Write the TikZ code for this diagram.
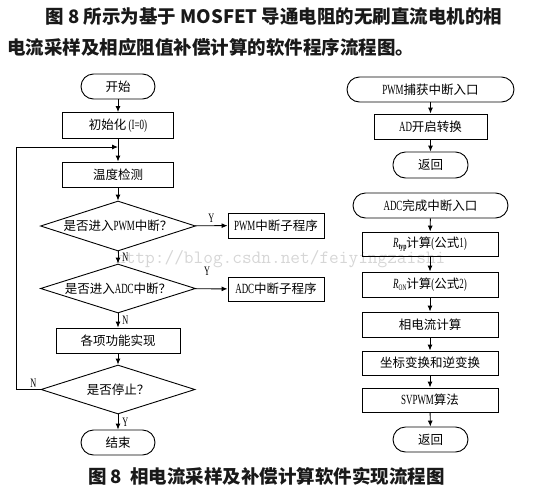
\documentclass[tikz,border=0pt]{standalone}
\usepackage{fontspec}
\setmainfont{Liberation Serif}
\newfontfamily\cjk{Noto Sans CJK SC}
\newfontfamily\latn{Liberation Serif}[FakeStretch=0.64,Scale=1.12]
\usetikzlibrary{shapes.geometric,arrows.meta}
\begin{document}
\begin{tikzpicture}[x=1pt,y=-1pt,
  box/.style={draw,line width=0.9pt,rectangle,minimum height=25pt,inner sep=0pt,font=\fontsize{12.5}{14}\selectfont\cjk},
  term/.style={box,rounded corners=12.5pt},
  dec/.style={draw,line width=0.9pt,diamond,inner sep=0pt,minimum width=155pt,minimum height=50pt,font=\fontsize{12.5}{14}\selectfont\cjk},
  arr/.style={-{Latex[length=6pt,width=5pt]},line width=0.9pt},
  lab/.style={font=\fontsize{11.5}{12}\selectfont\latn,inner sep=0pt},
  ttl/.style={font=\fontsize{18.5}{20}\selectfont\cjk\bfseries,text=black!90,inner sep=0pt}]
\useasboundingbox (0,0) rectangle (552,496);

% watermark
\node[font=\fontsize{18.8}{20}\selectfont\ttfamily,text=black!16,anchor=west,inner sep=0pt] (wm) at (116,259) {http://blog.csdn.net/feiyingzaishi};

% titles
\node[ttl] (t1) at (274,17) {图 8 所示为基于 MOSFET 导通电阻的无刷直流电机的相};
\node[ttl,anchor=west] (t2) at (7,47) {电流采样及相应阻值补偿计算的软件程序流程图。};
\node[ttl] (cap) at (266.5,476) {图 8\ \ 相电流采样及补偿计算软件实现流程图};

% left column
\node[term,minimum width=74pt] (start) at (118,86.5) {开始};
\node[box,minimum width=111pt,minimum height=26pt] (init) at (118,125.5) {初始化{\latn\,(I=0)}};
\node[box,minimum width=111pt] (temp) at (118,174.5) {温度检测};
\node[dec] (d1) at (118,226) {\makebox[0pt]{是否进入{\latn PWM}中断？}};
\node[box,minimum width=96pt] (pwmsub) at (276,225.5) {{\latn PWM}中断子程序};
\node[dec,minimum height=49pt] (d2) at (118,288.5) {\makebox[0pt]{是否进入{\latn ADC}中断？}};
\node[box,minimum width=96pt,minimum height=24pt] (adcsub) at (276,289) {{\latn ADC}中断子程序};
\node[box,minimum width=124pt] (func) at (118,340.5) {各项功能实现};
\node[dec,minimum width=154pt,minimum height=49pt] (d3) at (118,389.5) {\makebox[0pt]{是否停止？}};
\node[term,minimum width=74pt] (end) at (118,442.5) {结束};
\coordinate (lp) at (118,147);

\draw[arr] (start) -- (init);
\draw[arr] (init) -- (temp);
\draw[arr] (temp) -- (d1);
\draw[arr] (d1) -- node[lab,above=3pt]{Y} (pwmsub);
\draw[arr] (d1) -- node[lab,right=4pt]{N} (d2);
\draw[arr] (d2) -- node[lab,pos=0.37,above=13pt]{Y} (adcsub);
\draw[arr] (d2) -- node[lab,right=4pt]{N} (func);
\draw[arr] (func) -- (d3);
\draw[arr] (d3) -- node[lab,right=4pt]{Y} (end);
\draw[arr] (d3.west) -- node[lab,above=2pt,pos=0.3]{N} ++(-24,0) |- (lp);

% right column
\node[term,minimum width=167pt] (pwmin) at (430.5,89.5) {{\latn PWM}捕获中断入口};
\node[box,minimum width=113pt] (adst) at (430.5,126.5) {{\latn AD}开启转换};
\node[term,minimum width=75pt,minimum height=26pt] (ret1) at (430.5,165) {返回};
\node[term,minimum width=155pt] (adcin) at (430.5,205.5) {{\latn ADC}完成中断入口};
\node[box,minimum width=136pt,minimum height=24pt] (rtyp) at (430,244) {{\latn\itshape R}\raisebox{-2.5pt}{\fontsize{8}{8}\selectfont\latn\bfseries typ}计算{\latn (}公式{\latn 1)}};
\node[box,minimum width=136pt] (ron) at (430,284.5) {{\latn\itshape R}\raisebox{-2.5pt}{\fontsize{7.5}{8}\selectfont\latn ON}计算{\latn (}公式{\latn 2)}};
\node[box,minimum width=136pt] (phc) at (430,324.5) {相电流计算};
\node[box,minimum width=136pt,minimum height=24pt] (coord) at (430,363) {坐标变换和逆变换};
\node[box,minimum width=136pt,minimum height=24pt] (svp) at (430,400) {{\latn SVPWM}算法};
\node[term,minimum width=75pt] (ret2) at (430.5,439.5) {返回};

\draw[arr] (pwmin) -- (adst);
\draw[arr] (adst) -- (ret1);
\draw[arr] (adcin) -- (rtyp);
\draw[arr] (rtyp) -- (ron);
\draw[arr] (ron) -- (phc);
\draw[arr] (phc) -- (coord);
\draw[arr] (coord) -- (svp);
\draw[arr] (svp) -- (ret2);
\end{tikzpicture}
\end{document}
